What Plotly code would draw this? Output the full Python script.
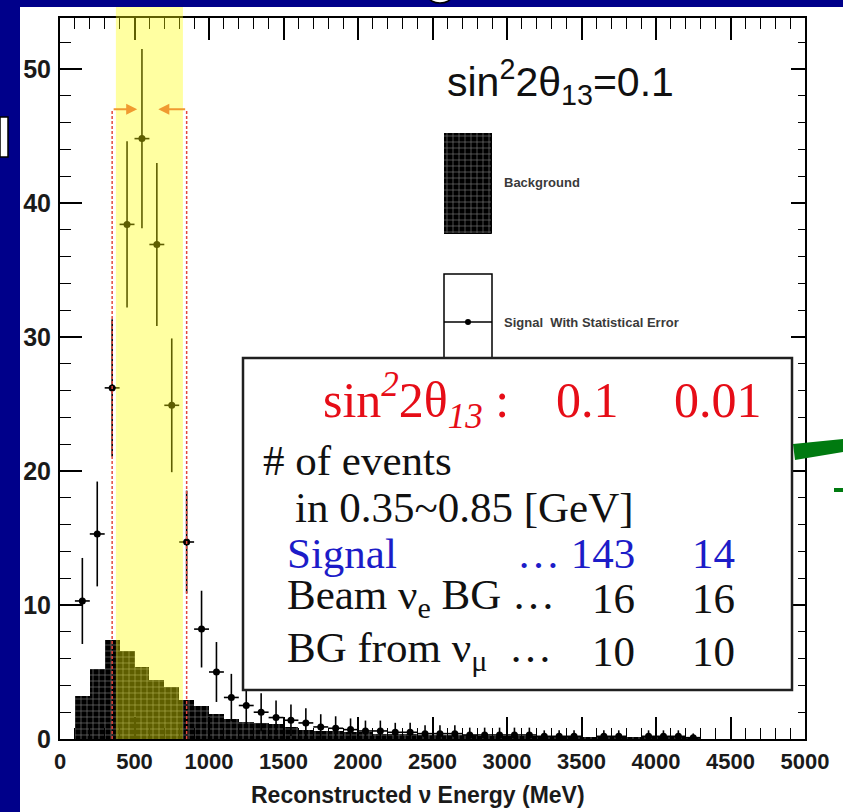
import math
import plotly.graph_objects as go

# ---- data -------------------------------------------------------------
# background histogram: 100 MeV bins, value per bin (bin centres below)
bg_centers = [150, 250, 350, 450, 550, 650, 750, 850, 950, 1050, 1150, 1250,
              1350, 1450, 1550, 1650, 1750, 1850, 1950, 2050, 2150, 2250,
              2350, 2450, 2550, 2650, 2750, 2850, 2950, 3050, 3150, 3250,
              3350, 3450, 3550, 3650, 3750, 3850, 3950, 4050, 4150, 4250]
bg_counts = [3.2, 5.2, 7.4, 6.6, 5.4, 4.4, 3.9, 2.9, 2.5, 1.9, 1.5, 1.3,
             1.2, 1.1, 0.9, 0.7, 0.6, 0.6, 0.5, 0.5, 0.4, 0.4,
             0.4, 0.3, 0.3, 0.3, 0.3, 0.2, 0.2, 0.2, 0.2, 0.2,
             0.2, 0.2, 0.1, 0.1, 0.1, 0.1, 0.1, 0.1, 0.1, 0.1]

# signal (sin^2 2theta13 = 0.1), statistical error = sqrt(N)
sig_centers = [150, 250, 350, 450, 550, 650, 750, 850, 950, 1050, 1150,
               1250, 1350, 1450, 1550, 1650, 1750, 1850, 1950, 2050, 2150,
               2250, 2350, 2450, 2550, 2650, 2750, 2850, 2950, 3050, 3150,
               3250, 3350, 3450, 3650, 3750, 3950, 4050, 4150, 4250]
sig_counts = [10.3, 15.3, 26.2, 38.4, 44.8, 36.9, 24.9, 14.7, 8.2, 5.0, 3.1,
              2.5, 2.0, 1.6, 1.4, 1.2, 0.9, 0.8, 0.7, 0.6, 0.6,
              0.5, 0.5, 0.4, 0.4, 0.4, 0.3, 0.3, 0.3, 0.3, 0.3,
              0.2, 0.2, 0.2, 0.2, 0.2, 0.2, 0.2, 0.2, 0.1]
sig_errors = [math.sqrt(v) for v in sig_counts]

x_ticks = [0, 500, 1000, 1500, 2000, 2500, 3000, 3500, 4000, 4500, 5000]
y_ticks = [0, 10, 20, 30, 40, 50]

window = (350, 850)          # energy window [MeV]
band = (375, 825)            # highlighted band
arrow_y = 47.0
arrow_tips = (518, 660)

table_rows = [
    ("Signal", "… 143", "14", "#1c1cc8"),
    ("Beam ν<sub>e</sub> BG …", "16", "16", "#111111"),
    ("BG from ν<sub>μ</sub>&nbsp; …", "10", "10", "#111111"),
]

# ---- page geometry (pixels) -------------------------------------------
W, H = 843, 812
L, R, T, B = 60, 805, 18, 739


def px(x):
    return (x - L) / (R - L)


def py(y):
    return (B - y) / (B - T)


NAVY = "#00008a"
RED = "#e60d17"
SERIF = "Liberation Serif"
SANS = "Liberation Sans"
HATCH = dict(shape="+", fgcolor="#e0e0e0", size=6, solidity=0.22)

fig = go.Figure()

fig.add_trace(go.Bar(
    x=bg_centers, y=bg_counts, width=100, name="Background",
    marker=dict(color="black", line=dict(width=0), pattern=HATCH),
    showlegend=False,
))

fig.add_trace(go.Scatter(
    x=sig_centers, y=sig_counts, mode="markers", name="Signal",
    marker=dict(color="black", size=7, symbol="circle"),
    error_y=dict(type="data", array=sig_errors, color="black", thickness=1.6, width=0),
    error_x=dict(type="constant", value=50, color="black", thickness=1.6, width=0),
    showlegend=False,
))

# right-hand axis carrying the shorter mirrored ticks
fig.add_trace(go.Scatter(x=[None], y=[None], yaxis="y2", showlegend=False,
                         hoverinfo="skip"))

# legend key for the background histogram
fig.add_trace(go.Bar(
    x=[0.5], y=[1], width=1, xaxis="x3", yaxis="y3", showlegend=False,
    marker=dict(color="black", line=dict(width=1, color="black"), pattern=HATCH),
    hoverinfo="skip",
))

axis_font_x = dict(family=SANS, size=22, color="#1a1a1a")
axis_font_y = dict(family=SANS, size=25, color="#1a1a1a")

fig.update_layout(
    width=W, height=H, autosize=False,
    margin=dict(l=L, r=W - R, t=T, b=H - B),
    paper_bgcolor="white", plot_bgcolor="white",
    bargap=0, showlegend=False,
    xaxis=dict(
        range=[0, 5000], tickmode="array", tickvals=x_ticks,
        ticktext=[f"<b>{v}</b>" for v in x_ticks],
        ticks="inside", ticklen=22, tickwidth=1.5, tickcolor="black",
        minor=dict(dtick=100, ticks="inside", ticklen=11, tickwidth=1.2,
                   tickcolor="black"),
        showline=True, linecolor="black", linewidth=2, mirror="ticks",
        showgrid=False, zeroline=False, tickfont=axis_font_x,
        ticklabelstandoff=2,
    ),
    yaxis=dict(
        range=[0, 53.8], tickmode="array", tickvals=y_ticks,
        ticktext=[f"<b>{v}</b>" for v in y_ticks],
        ticks="inside", ticklen=22, tickwidth=1.5, tickcolor="black",
        minor=dict(dtick=2, ticks="inside", ticklen=11, tickwidth=1.2,
                   tickcolor="black"),
        showline=True, linecolor="black", linewidth=2, mirror=True,
        showgrid=False, zeroline=False, tickfont=axis_font_y,
        ticklabelstandoff=2,
    ),
    yaxis2=dict(
        range=[0, 53.8], overlaying="y", side="right", anchor="x",
        tickmode="array", tickvals=y_ticks, showticklabels=False,
        ticks="inside", ticklen=14, tickwidth=1.5, tickcolor="black",
        minor=dict(dtick=2, ticks="inside", ticklen=7, tickwidth=1.2,
                   tickcolor="black"),
        showline=False, showgrid=False, zeroline=False,
    ),
    xaxis3=dict(domain=[px(444), px(492)], range=[0, 1], anchor="y3",
                visible=False, fixedrange=True),
    yaxis3=dict(domain=[py(234), py(133)], range=[0, 1], anchor="x3",
                visible=False, fixedrange=True),
)

shapes = []

# slide background around the chart
shapes.append(dict(type="rect", xref="paper", yref="paper", layer="above",
                   x0=px(0), x1=px(20), y0=py(H), y1=py(0),
                   fillcolor=NAVY, line=dict(width=0)))
shapes.append(dict(type="rect", xref="paper", yref="paper", layer="above",
                   x0=px(0), x1=px(W), y0=py(7), y1=py(0),
                   fillcolor=NAVY, line=dict(width=0)))
shapes.append(dict(type="rect", xref="paper", yref="paper", layer="above",
                   x0=px(0), x1=px(8), y0=py(157), y1=py(117),
                   fillcolor="white", line=dict(width=1.5, color="black")))
shapes.append(dict(type="circle", xref="paper", yref="paper", layer="above",
                   x0=px(429), x1=px(451), y0=py(3), y1=py(-9),
                   fillcolor="white", line=dict(width=1.5, color="black")))

# energy window markers
for xv in window:
    shapes.append(dict(type="line", xref="x", yref="y", layer="above",
                       x0=xv, x1=xv, y0=0, y1=arrow_y,
                       line=dict(color="#e5483c", width=1.5, dash="3px,2px")))

# highlighted band
shapes.append(dict(type="rect", xref="x", yref="paper", layer="above",
                   x0=band[0], x1=band[1], y0=0, y1=py(7),
                   fillcolor="rgba(255,255,0,0.37)", line=dict(width=0)))

# legend keys
shapes.append(dict(type="rect", xref="paper", yref="paper", layer="above",
                   x0=px(444), x1=px(492), y0=py(380), y1=py(274),
                   fillcolor="white", line=dict(width=1.5, color="black")))
shapes.append(dict(type="line", xref="paper", yref="paper", layer="above",
                   x0=px(444), x1=px(492), y0=py(322), y1=py(322),
                   line=dict(width=1.5, color="black")))
shapes.append(dict(type="circle", xref="paper", yref="paper", layer="above",
                   x0=px(465), x1=px(471), y0=py(325), y1=py(319),
                   fillcolor="black", line=dict(width=0)))

# event-count table
shapes.append(dict(type="rect", xref="paper", yref="paper", layer="above",
                   x0=px(243), x1=px(792), y0=py(690), y1=py(358),
                   fillcolor="white", line=dict(width=2.5, color="#202020")))

# green pointer at the right edge
path = (f"M {px(793)},{py(444)} L {px(843)},{py(439)} L {px(843)},{py(452)} "
        f"L {px(795)},{py(460)} Z")
shapes.append(dict(type="path", xref="paper", yref="paper", layer="above",
                   path=path, fillcolor="#007a10", line=dict(width=0)))
shapes.append(dict(type="rect", xref="paper", yref="paper", layer="above",
                   x0=px(834), x1=px(843), y0=py(492), y1=py(488),
                   fillcolor="#007a10", line=dict(width=0)))

fig.update_layout(shapes=shapes)

ann = []


def text(x, y, s, size, color="#111111", family=SERIF, anchor="left"):
    ann.append(dict(xref="paper", yref="paper", x=px(x), y=py(y), text=s,
                    showarrow=False, xanchor=anchor, yanchor="middle",
                    font=dict(family=family, size=size, color=color)))


# window arrows
for start, tip in ((window[0], arrow_tips[0]), (window[1], arrow_tips[1])):
    ann.append(dict(xref="x", yref="y", axref="x", ayref="y",
                    x=tip, y=arrow_y, ax=start, ay=arrow_y, text="",
                    showarrow=True, arrowhead=2, arrowsize=1.1, arrowwidth=2,
                    arrowcolor="#f09a30", standoff=0, startstandoff=0))

# legend
text(445, 82, "sin<sup>2</sup>2θ<sub>13</sub>=0.1", 41, "#111111", SANS)
text(502, 182, "<b>Background</b>", 13, "#3a3a3a", SANS)
text(502, 322, "<b>Signal  With Statistical Error</b>", 13, "#3a3a3a", SANS)

# table
text(321, 400, "sin<sup><i>2</i></sup>2θ<sub><i>13</i></sub> :", 50, RED)
text(554, 400, "0.1", 50, RED)
text(672, 400, "0.01", 50, RED)
text(261, 461, "# of events", 43)
text(293, 508, "in 0.35~0.85 [GeV]", 43)
row_y = [553, 598, 651]
for (label, v1, v2, col), yy in zip(table_rows, row_y):
    text(285, yy, label, 43, col)
    text(637, yy, v1, 43, col, anchor="right")
    text(737, yy, v2, 43, col, anchor="right")

# axis title
text(418, 795, "<b>Reconstructed ν Energy (MeV)</b>", 23, "#1a1a1a", SANS,
     anchor="center")

fig.update_layout(annotations=ann)

fig.write_html("out.html")
